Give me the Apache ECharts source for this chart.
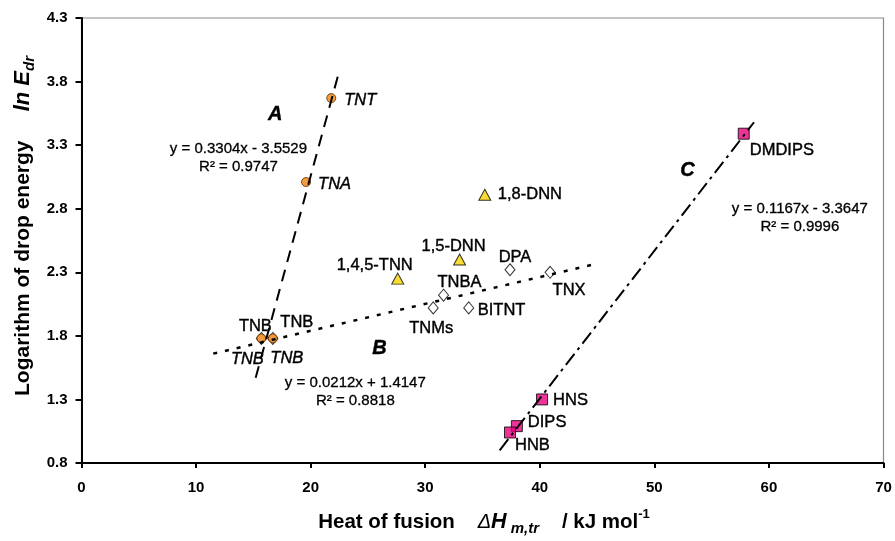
<!DOCTYPE html>
<html><head><meta charset="utf-8">
<script src="https://cdn.jsdelivr.net/npm/echarts/dist/echarts.min.js"></script>
<style>html,body{margin:0;padding:0;background:#fff}#c{width:895px;height:541px}</style>
</head><body><div id="c"></div>
<script>
// ---- data ----
const namesA = ['TNT', 'TNA', 'TNB', 'TNB'];
const xA = [21.8, 19.6, 15.7, 16.7];
const yA = [3.67, 3.01, 1.78, 1.78];

const namesB = ['TNB', 'TNB', 'TNMs', 'BITNT', 'TNBA', 'DPA', 'TNX'];
const xB = [15.7, 16.7, 30.7, 33.8, 31.6, 37.4, 40.9];
const yB = [1.78, 1.78, 2.02, 2.02, 2.12, 2.32, 2.30];

const namesT = ['1,8-DNN', '1,5-DNN', '1,4,5-TNN'];
const xT = [35.2, 33.0, 27.6];
const yT = [2.91, 2.40, 2.25];

const namesC = ['DMDIPS', 'HNS', 'DIPS', 'HNB'];
const xC = [57.8, 40.2, 38.0, 37.4];
const yC = [3.39, 1.30, 1.09, 1.04];

const trendAx = [15.2, 22.4], trendAy = [1.47, 3.85];
const trendBx = [11.5, 44.8], trendBy = [1.66, 2.364];
const trendCx = [36.5, 58.7], trendCy = [0.90, 3.48];

const xTicks = [0, 10, 20, 30, 40, 50, 60, 70];
const yTicks = [0.8, 1.3, 1.8, 2.3, 2.8, 3.3, 3.8, 4.3];

const annText = ['A', 'B', 'C',
  'y = 0.3304x - 3.5529\nR² = 0.9747',
  'y = 0.0212x + 1.4147\nR² = 0.8818',
  'y = 0.1167x - 3.3647\nR² = 0.9996'];
const annX = [16.9, 26.0, 52.9, 13.7, 23.9, 62.7];
const annY = [3.54, 1.70, 3.10, 3.20, 1.36, 2.73];

// ---- layout (label offsets in px relative to marker centre) ----
const FONT = '"Liberation Sans", Arial, sans-serif';
const layA = [[13, 2, 'left'], [12, 2, 'left'], [-14, 21, 'center'], [14, 20, 'center']];
const layB = [[-6, -12, 'center'], [24, -16, 'center'], [-2, 21, 'center'], [9, 3, 'left'], [16, -13, 'center'], [5, -12, 'center'], [19, 18, 'center']];
const layT = [[13, 0, 'left'], [-6, -13, 'center'], [-23, -13, 'center']];
const layC = [[6, 17, 'left'], [11, 1, 'left'], [11, -4, 'left'], [5, 13, 'left']];

function items(names, xs, ys, lay, italic) {
  return names.map((n, i) => ({
    value: [xs[i], ys[i]],
    label: {
      show: true, formatter: n, position: 'inside',
      offset: [lay[i][0], lay[i][1]], align: lay[i][2], verticalAlign: 'middle',
      color: '#000', opacity: 1, fontSize: 16.5, fontFamily: FONT,
      textBorderColor: '#000', textBorderWidth: 0.4,
      fontStyle: italic ? 'italic' : 'normal'
    }
  }));
}
function pairs(xs, ys) { return xs.map((x, i) => [x, ys[i]]); }

const annData = annText.map((t, i) => ({
  value: [annX[i], annY[i]],
  label: i < 3
    ? { show: true, formatter: t, position: 'inside', color: '#000', opacity: 1, fontSize: 20, fontWeight: 'bold', fontStyle: 'italic', fontFamily: FONT, textBorderColor: '#000', textBorderWidth: 0.4 }
    : { show: true, formatter: t, position: 'inside', color: '#000', opacity: 1, fontSize: 15, lineHeight: 18, align: 'center', fontFamily: FONT, textBorderColor: '#000', textBorderWidth: 0.3 }
}));

const chart = echarts.init(document.getElementById('c'), null, { renderer: 'canvas' });
chart.setOption({
  animation: false,
  backgroundColor: '#fff',
  grid: { left: 81.5, right: 11.5, top: 18, bottom: 78, show: true, borderColor: '#8a8a8a', borderWidth: 1.2 },
  xAxis: {
    type: 'value', min: xTicks[0], max: xTicks[xTicks.length - 1], interval: 10,
    axisLine: { show: true, onZero: false, lineStyle: { color: '#000', width: 2 } },
    axisTick: { show: true, length: 5, lineStyle: { color: '#000', width: 2 } },
    axisLabel: { color: '#000', fontSize: 15, fontWeight: 'bold', fontFamily: FONT, margin: 17 },
    splitLine: { show: false }
  },
  yAxis: {
    type: 'value', min: yTicks[0], max: yTicks[yTicks.length - 1], interval: 0.5,
    axisLine: { show: true, onZero: false, lineStyle: { color: '#000', width: 2 } },
    axisTick: { show: true, length: 6, lineStyle: { color: '#000', width: 2 } },
    axisLabel: { color: '#000', fontSize: 15, fontWeight: 'bold', fontFamily: FONT, margin: 14,
      formatter: v => v.toFixed(1) },
    splitLine: { show: false }
  },
  graphic: [
    { type: 'text', x: 23, y: 226, rotation: Math.PI / 2,
      style: { text: '{b|Logarithm of drop energy     }{bi|ln E}{sub|dr}', align: 'center', verticalAlign: 'middle', fill: '#000',
        rich: {
          b: { fontSize: 21, fontWeight: 'bold', fontFamily: FONT, lineHeight: 28, verticalAlign: 'middle', fill: '#000' },
          bi: { fontSize: 22, fontWeight: 'bold', fontStyle: 'italic', fontFamily: FONT, lineHeight: 28, verticalAlign: 'middle', fill: '#000' },
          sub: { fontSize: 15, fontWeight: 'bold', fontStyle: 'italic', fontFamily: FONT, lineHeight: 15, verticalAlign: 'bottom', fill: '#000' }
        } } },
    { type: 'text', x: 484, y: 522,
      style: { text: '{b|Heat of fusion    }{d|Δ}{bi|H}{sub| m,tr}{b|    / kJ mol}{sup|-1}', align: 'center', verticalAlign: 'middle', fill: '#000',
        rich: {
          b: { fontSize: 20.5, fontWeight: 'bold', fontFamily: FONT, lineHeight: 28, verticalAlign: 'middle', fill: '#000' },
          d: { fontSize: 20, fontStyle: 'italic', fontFamily: FONT, lineHeight: 28, verticalAlign: 'middle', fill: '#000' },
          bi: { fontSize: 21.5, fontWeight: 'bold', fontStyle: 'italic', fontFamily: FONT, lineHeight: 28, verticalAlign: 'middle', fill: '#000' },
          sub: { fontSize: 15, fontWeight: 'bold', fontStyle: 'italic', fontFamily: FONT, lineHeight: 15, verticalAlign: 'bottom', fill: '#000' },
          sup: { fontSize: 13, fontWeight: 'bold', fontFamily: FONT, lineHeight: 15, verticalAlign: 'top', fill: '#000' }
        } } }
  ],
  series: [
    { type: 'line', data: pairs(trendAx, trendAy), symbol: 'none', silent: true,
      lineStyle: { color: '#000', width: 2, type: [12, 8] } },
    { type: 'line', data: pairs(trendBx, trendBy), symbol: 'none', silent: true,
      lineStyle: { color: '#000', width: 2.5, type: [4, 8] } },
    { type: 'line', data: pairs(trendCx, trendCy), symbol: 'none', silent: true,
      lineStyle: { color: '#000', width: 2, type: [14, 5, 3, 5] } },
    { type: 'scatter', data: items(namesB, xB, yB, layB, false), symbol: 'diamond', symbolSize: [10, 12],
      itemStyle: { color: '#fff', borderColor: '#000', borderWidth: 1 } },
    { type: 'scatter', data: items(namesA, xA, yA, layA, true), symbol: 'circle', symbolSize: 9,
      itemStyle: { color: '#F0820F', borderColor: '#5a2a00', borderWidth: 1 } },
    { type: 'scatter', data: items(namesT, xT, yT, layT, false), symbol: 'triangle', symbolSize: [12, 11],
      itemStyle: { color: '#F7D300', borderColor: '#000', borderWidth: 1 } },
    { type: 'scatter', data: items(namesC, xC, yC, layC, false), symbol: 'rect', symbolSize: 11,
      itemStyle: { color: '#E6007E', borderColor: '#000', borderWidth: 1 } },
    { type: 'scatter', data: annData, symbolSize: 1, silent: true, itemStyle: { color: 'transparent' } }
  ]
});
</script></body></html>
